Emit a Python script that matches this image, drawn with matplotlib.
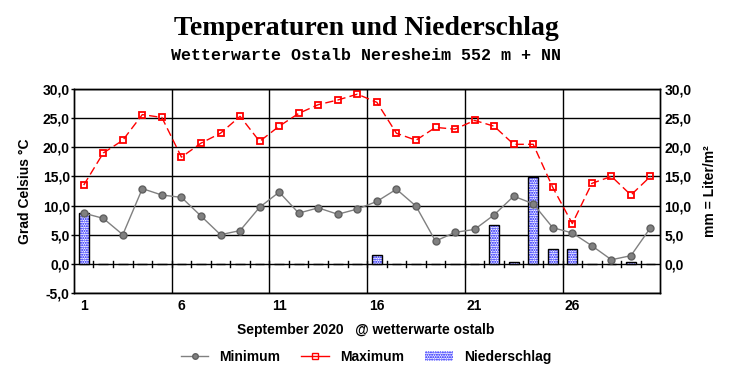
import numpy as np
import matplotlib
matplotlib.use('Agg')
import matplotlib.pyplot as plt
from matplotlib.lines import Line2D
from matplotlib.patches import Patch

days = np.arange(1, 31)
minimum = [8.7, 7.8, 5.0, 12.9, 11.8, 11.4, 8.2, 5.0, 5.7, 9.7,
           12.3, 8.7, 9.6, 8.5, 9.4, 10.7, 12.8, 9.9, 3.9, 5.4,
           5.9, 8.4, 11.6, 10.3, 6.2, 5.3, 3.1, 0.7, 1.4, 6.2]
maximum = [13.5, 19.0, 21.2, 25.6, 25.1, 18.3, 20.7, 22.4, 25.3, 21.0,
           23.6, 25.8, 27.3, 28.1, 29.1, 27.7, 22.4, 21.2, 23.4, 23.1,
           24.6, 23.6, 20.5, 20.5, 13.1, 6.9, 13.8, 15.0, 11.8, 15.0]
niederschlag = [8.8, 0, 0, 0, 0, 0, 0, 0, 0, 0,
                0, 0, 0, 0, 0, 1.5, 0, 0, 0, 0,
                0, 6.7, 0.3, 14.9, 2.6, 2.6, 0, 0, 0.3, 0]
tick_days = [1, 6, 11, 16, 21, 26]
y_ticks = [-5, 0, 5, 10, 15, 20, 25, 30]

lab_font = ['Liberation Sans Narrow', 'Liberation Sans', 'DejaVu Sans']

def fmt(v):
    return f"{v:.1f}".replace('.', ',')

fig = plt.figure(figsize=(7.32, 3.80), dpi=100)
ax = fig.add_axes([0.101, 0.229, 0.801, 0.537])

ax.set_xlim(0.5, 30.5)
ax.set_ylim(-5, 30)

for y in y_ticks:
    ax.axhline(y, color='black', lw=1, zorder=1)
for x in [5.5, 10.5, 15.5, 20.5, 25.5]:
    ax.axvline(x, color='black', lw=1, zorder=1)
for x in np.arange(1.5, 30.5, 1):
    ax.plot([x, x], [-0.5, 0.5], color='black', lw=1, zorder=1)

ax.bar(days, niederschlag, width=0.5, facecolor='white', edgecolor='#0000ff',
       hatch='.......', lw=0, zorder=2)
ax.bar(days, niederschlag, width=0.5, fill=False, edgecolor='black', lw=1, zorder=3)

ax.plot(days, minimum, color='#808080', lw=1, marker='o', ms=5,
        mfc='#808080', mec='#606060', zorder=4)
ax.plot(days, maximum, color='red', lw=1, ls=(0, (6, 3)), marker='s', ms=5,
        mfc='none', mec='red', mew=1.3, zorder=5)

ax.set_xticks(tick_days)
ax.set_xticklabels([str(d) for d in tick_days], family=lab_font, weight='bold', fontsize=10)
ax.tick_params(axis='x', length=0, pad=4)
ax.set_yticks(y_ticks)
ax.set_yticklabels([fmt(v) for v in y_ticks], family=lab_font, weight='bold', fontsize=10)
ax.tick_params(axis='y', length=2, width=1, pad=1)

ax2 = ax.twinx()
ax2.set_ylim(-5, 30)
ax2.set_yticks(y_ticks[1:])
ax2.set_yticklabels([fmt(v) for v in y_ticks[1:]], family=lab_font, weight='bold', fontsize=10)
ax2.tick_params(axis='y', length=0, pad=3)

for a in (ax, ax2):
    for s in a.spines.values():
        s.set_linewidth(1)
        s.set_color('black')

ax.set_ylabel('Grad Celsius °C', family=lab_font, weight='bold', fontsize=10, labelpad=8)
ax2.set_ylabel('mm = Liter/m²', family=lab_font, weight='bold', fontsize=10, labelpad=8)

fig.text(0.5, 0.925, 'Temperaturen und Niederschlag', ha='center', va='center',
         family='Liberation Serif', weight='bold', fontsize=20)
fig.text(0.5, 0.853, 'Wetterwarte Ostalb Neresheim 552 m + NN', ha='center', va='center',
         family='Liberation Mono', weight='bold', fontsize=12)
fig.text(0.5, 0.132, 'September 2020   @ wetterwarte ostalb', ha='center', va='center',
         family=lab_font, weight='bold', fontsize=10)

handles = [Line2D([], [], color='#808080', lw=1, marker='o', ms=4, mfc='#808080', mec='#606060'),
           Line2D([], [], color='red', lw=1, marker='s', ms=4, mfc='none', mec='red'),
           Patch(facecolor='white', edgecolor='#0000ff', hatch='.......', lw=0)]
fig.legend(handles, ['Minimum', 'Maximum', 'Niederschlag'], loc='center', ncol=3,
           bbox_to_anchor=(0.5, 0.06), frameon=False, columnspacing=1.5,
           handlelength=2.0, prop={'family': lab_font, 'weight': 'bold', 'size': 10})

fig.savefig('out.png', dpi=100)
